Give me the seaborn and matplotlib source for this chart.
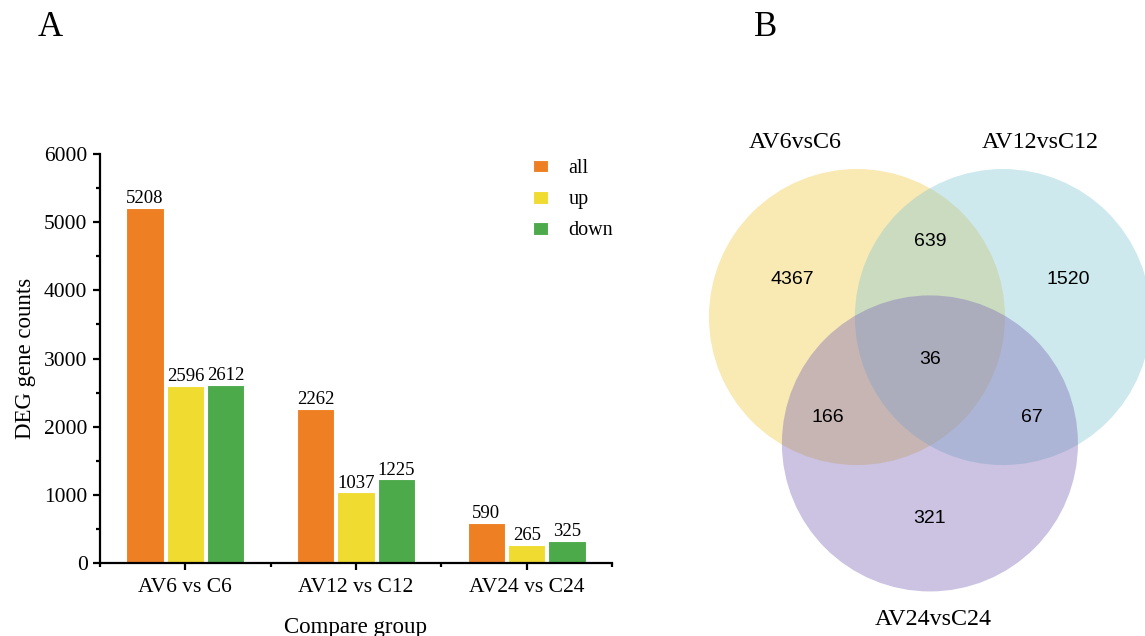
import numpy as np
import pandas as pd
import matplotlib
matplotlib.use("Agg")
import matplotlib.pyplot as plt
from matplotlib.patches import Circle
from matplotlib.ticker import MultipleLocator, FixedLocator
import seaborn as sns

# ---- data -------------------------------------------------------------
groups = ["AV6 vs C6", "AV12 vs C12", "AV24 vs C24"]
kinds = ["all", "up", "down"]
all_counts = [5208, 2262, 590]
up_counts = [2596, 1037, 265]
down_counts = [2612, 1225, 325]
bar_colors = ["#EE7F22", "#F0DC30", "#4CAA4A"]

venn_sets = ["AV6vsC6", "AV12vsC12", "AV24vsC24"]
# region counts: only A, only B, only C, A&B, A&C, B&C, A&B&C
venn_only = [4367, 1520, 321]
venn_pairs = {"AB": 639, "AC": 166, "BC": 67}
venn_all = 36
venn_colors = ["#F2C841", "#84C8D4", "#7D69B6"]

# ---- style ------------------------------------------------------------
sns.set_style("ticks")
plt.rcParams["font.family"] = ["Liberation Serif", "DejaVu Serif"]
plt.rcParams["axes.linewidth"] = 1.6
plt.rcParams["text.color"] = "black"
plt.rcParams["axes.labelcolor"] = "black"
plt.rcParams["axes.edgecolor"] = "black"

fig = plt.figure(figsize=(11.45, 6.36), dpi=100)

# ---- panel A: grouped bar chart ----------------------------------------
df = pd.DataFrame({
    "group": np.repeat(groups, 3),
    "kind": kinds * 3,
    "count": [v for trio in zip(all_counts, up_counts, down_counts) for v in trio],
})

ax = fig.add_axes([100 / 1145, 73 / 636, 512 / 1145, 409 / 636])
sns.barplot(data=df, x="group", y="count", hue="kind", hue_order=kinds,
            order=groups, palette=bar_colors, width=0.71, gap=0.08,
            saturation=1, edgecolor="white", linewidth=0.8, ax=ax)

for cont in ax.containers:
    ax.bar_label(cont, fmt="%d", fontsize=13.5, padding=0.5)

ax.set_xlim(-0.5, 2.5)
ax.set_ylim(0, 6000)
ax.yaxis.set_major_locator(MultipleLocator(1000))
ax.yaxis.set_minor_locator(MultipleLocator(500))
ax.xaxis.set_minor_locator(FixedLocator([-0.5, 0.5, 1.5, 2.5]))
ax.tick_params(axis="both", which="major", direction="out", length=5,
               width=1.6, labelsize=15.5, pad=4, colors="black")
ax.tick_params(axis="both", which="minor", direction="out", length=3,
               width=1.6, colors="black")
ax.tick_params(axis="x", which="major", pad=6)
sns.despine(ax=ax)
ax.set_ylabel("DEG gene counts", fontsize=16.5, labelpad=6)
ax.set_xlabel("Compare group", fontsize=16.5, labelpad=14)

handles, labels = ax.get_legend_handles_labels()
ax.legend(handles, labels, loc="upper left", bbox_to_anchor=(0.826, 1.012),
          frameon=False, fontsize=14.5, handlelength=0.75, handleheight=0.6,
          handletextpad=1.0, labelspacing=0.6, borderpad=0)

fig.text(50 / 1145, 1 - 27 / 636, "A", fontsize=25, ha="center", va="center")

# ---- panel B: three-set Venn diagram -----------------------------------
r = 1.0
d = 0.986
centers = np.array([[0.0, 0.0], [d, 0.0], [d / 2, -d * np.sqrt(3) / 2]])
centroid = centers.mean(axis=0)

vax = fig.add_axes([690 / 1145, 0, 455 / 1145, 1])
vax.set_xlim(-1.128, 1.946)
vax.set_ylim(-2.155, 2.142)
vax.set_aspect("equal", adjustable="datalim")
vax.axis("off")

for c, col in zip(centers, venn_colors):
    vax.add_patch(Circle(c, r, facecolor=col, alpha=0.4, edgecolor="none"))

num_kw = dict(fontsize=14, ha="center", va="center",
              family=["Liberation Sans", "DejaVu Sans"])
for c, n in zip(centers, venn_only):
    p = centroid + 1.89 * (c - centroid)
    vax.text(p[0], p[1], str(n), **num_kw)
pair_opposite = {"AB": 2, "AC": 1, "BC": 0}
for key, n in venn_pairs.items():
    other = centers[pair_opposite[key]]
    p = centroid + 1.395 * (centroid - other)
    vax.text(p[0], p[1], str(n), **num_kw)
vax.text(centroid[0], centroid[1], str(venn_all), **num_kw)

name_offsets = [(-0.42, 1.18), (0.25, 1.18), (0.02, -1.19)]
for c, name, off in zip(centers, venn_sets, name_offsets):
    vax.text(c[0] + off[0], c[1] + off[1], name, fontsize=17.3,
             ha="center", va="center")

fig.text(766 / 1145, 1 - 27 / 636, "B", fontsize=25, ha="center", va="center")

fig.savefig("out.png", dpi=100, facecolor="white")
